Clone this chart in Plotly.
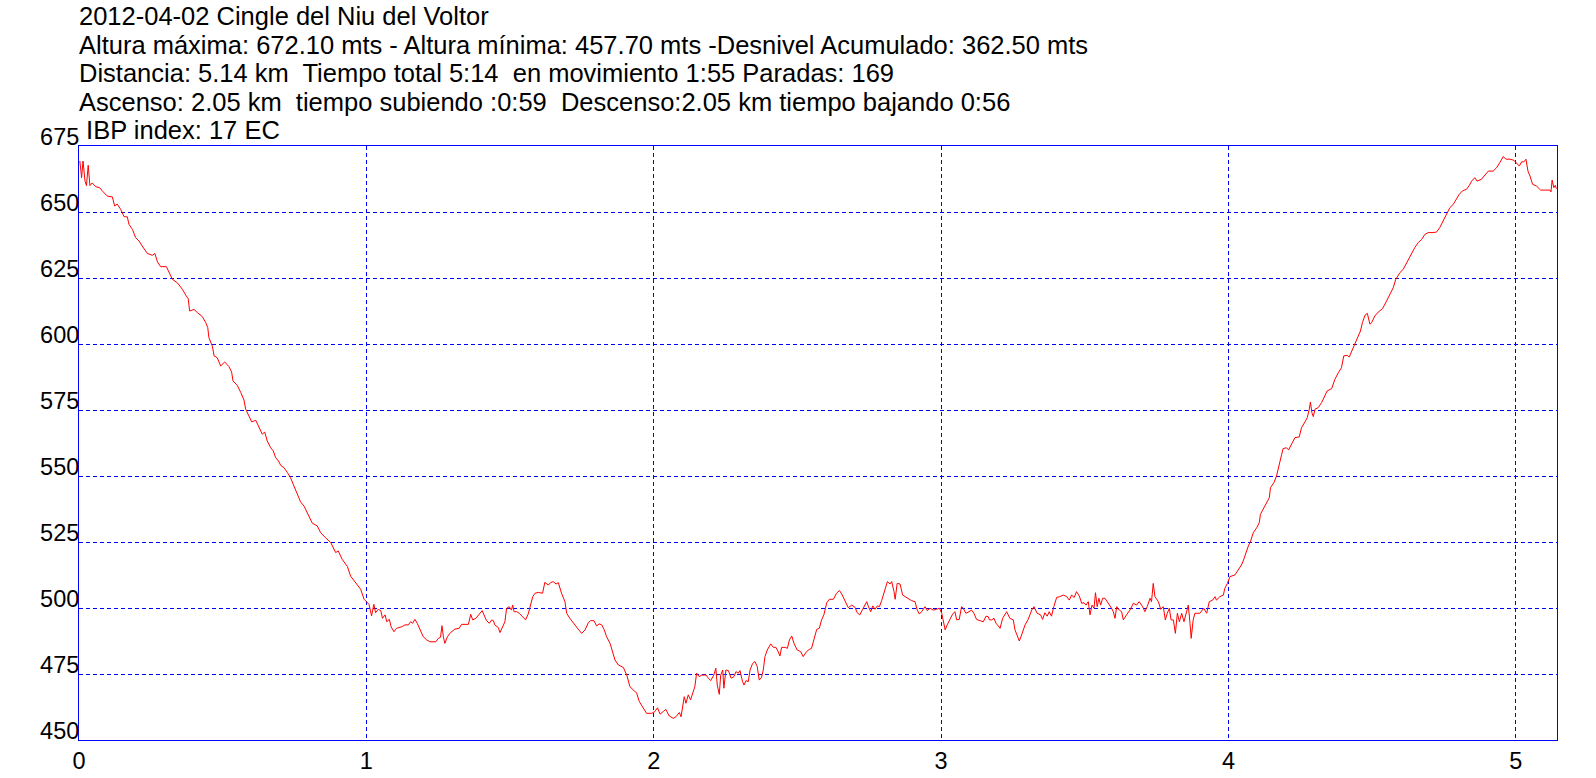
import plotly.graph_objects as go

title_lines = [
    "2012-04-02 Cingle del Niu del Voltor",
    "Altura máxima: 672.10 mts - Altura mínima: 457.70 mts -Desnivel Acumulado: 362.50 mts",
    "Distancia: 5.14 km  Tiempo total 5:14  en movimiento 1:55 Paradas: 169",
    "Ascenso: 2.05 km  tiempo subiendo :0:59  Descenso:2.05 km tiempo bajando 0:56",
    " IBP index: 17 EC",
]

x_ticks = [0, 1, 2, 3, 4, 5]
y_ticks = [450, 475, 500, 525, 550, 575, 600, 625, 650, 675]

dist_km = [
    0.003, 0.009, 0.014, 0.021, 0.026, 0.032, 0.038, 0.046, 0.058, 0.072, 0.081, 0.099, 0.116, 0.124,
    0.133, 0.145, 0.157, 0.168, 0.174, 0.186, 0.197, 0.209, 0.220, 0.238, 0.255, 0.264, 0.273, 0.284,
    0.304, 0.313, 0.325, 0.342, 0.360, 0.373, 0.380, 0.385, 0.400, 0.412, 0.429, 0.441, 0.448, 0.452,
    0.464, 0.470, 0.481, 0.493, 0.507, 0.522, 0.531, 0.536, 0.551, 0.563, 0.574, 0.580, 0.592, 0.601,
    0.615, 0.626, 0.638, 0.646, 0.655, 0.667, 0.676, 0.684, 0.694, 0.702, 0.713, 0.725, 0.736, 0.748,
    0.760, 0.771, 0.783, 0.794, 0.812, 0.829, 0.841, 0.858, 0.876, 0.893, 0.902, 0.916, 0.934, 0.945,
    0.963, 0.980, 0.992, 1.009, 1.018, 1.026, 1.032,
    1.041, 1.050, 1.056, 1.065, 1.071, 1.080, 1.086, 1.096, 1.105, 1.123, 1.134, 1.146, 1.154, 1.161,
    1.169, 1.177, 1.187, 1.198, 1.210, 1.221, 1.242, 1.250, 1.258, 1.263, 1.268, 1.273, 1.282, 1.293,
    1.308, 1.323, 1.331, 1.355, 1.363, 1.370, 1.381, 1.393, 1.403, 1.418, 1.428, 1.436, 1.442, 1.447,
    1.459, 1.465, 1.474, 1.482, 1.488, 1.497, 1.505, 1.509, 1.514, 1.523, 1.532, 1.546, 1.554, 1.563,
    1.572, 1.579, 1.587, 1.598, 1.613, 1.621, 1.633, 1.641, 1.650, 1.660, 1.668, 1.674, 1.679, 1.691,
    1.697, 1.708, 1.720, 1.737, 1.749, 1.761, 1.772, 1.780, 1.792, 1.801, 1.810, 1.819, 1.827, 1.836,
    1.848, 1.856, 1.865, 1.877, 1.894, 1.906, 1.917, 1.931, 1.940, 1.950, 1.961, 1.975, 1.993, 2.004,
    2.013, 2.022, 2.033, 2.042, 2.054, 2.068, 2.077, 2.089,
    2.095, 2.100, 2.106, 2.112, 2.120, 2.128, 2.138, 2.143, 2.149, 2.158, 2.167, 2.182, 2.190, 2.198,
    2.209, 2.216, 2.221, 2.228, 2.233, 2.240, 2.244, 2.251, 2.260, 2.269, 2.279, 2.286, 2.294, 2.300,
    2.309, 2.314, 2.321, 2.329, 2.335, 2.344, 2.352, 2.360, 2.367, 2.375, 2.381, 2.387, 2.395, 2.407,
    2.416, 2.425, 2.433, 2.439, 2.445, 2.457, 2.465, 2.472, 2.480, 2.488, 2.499, 2.511, 2.520, 2.532,
    2.541, 2.549, 2.557, 2.567, 2.576, 2.584, 2.592, 2.602, 2.611, 2.625, 2.636, 2.646, 2.654, 2.665,
    2.677, 2.689, 2.700, 2.708, 2.717, 2.727, 2.741, 2.746, 2.755, 2.762, 2.770, 2.778, 2.785, 2.793,
    2.805, 2.813, 2.822, 2.828, 2.836, 2.840, 2.847, 2.857, 2.866, 2.874, 2.886, 2.897, 2.909, 2.917,
    2.924, 2.932, 2.944, 2.952, 2.961, 2.973, 2.984, 2.994, 3.002, 3.007, 3.014, 3.021, 3.031, 3.040,
    3.048, 3.054, 3.063, 3.071, 3.077, 3.086, 3.097, 3.106, 3.114, 3.123, 3.135, 3.147, 3.156, 3.164,
    3.168,
    3.176, 3.184, 3.191, 3.199, 3.205, 3.214, 3.228, 3.239, 3.251, 3.257, 3.265, 3.272, 3.280, 3.292,
    3.303, 3.315, 3.323, 3.334, 3.346, 3.353, 3.361, 3.369, 3.376, 3.384, 3.392, 3.402, 3.413, 3.425,
    3.437, 3.446, 3.454, 3.463, 3.471, 3.481, 3.489, 3.497, 3.504, 3.512, 3.518, 3.525, 3.532, 3.537,
    3.543, 3.549, 3.555, 3.562, 3.570, 3.582, 3.593, 3.599, 3.605, 3.611, 3.620, 3.628, 3.634, 3.645,
    3.657, 3.669, 3.680, 3.689, 3.701, 3.709, 3.717, 3.727, 3.732, 3.738, 3.744, 3.756, 3.764, 3.773,
    3.780, 3.787, 3.794, 3.800, 3.808, 3.815, 3.822, 3.829, 3.837, 3.845, 3.852, 3.860, 3.866, 3.870,
    3.877, 3.883, 3.900, 3.914, 3.924, 3.933, 3.945, 3.953, 3.958, 3.970, 3.982, 3.987, 3.996, 4.005,
    4.022, 4.034, 4.045, 4.051,
    4.060, 4.069, 4.077, 4.086, 4.098, 4.107, 4.111, 4.121, 4.132, 4.142, 4.146, 4.158, 4.167, 4.173,
    4.179, 4.185, 4.190, 4.202, 4.209, 4.219, 4.231, 4.246, 4.254, 4.266, 4.274, 4.281, 4.285, 4.290,
    4.295, 4.301, 4.312, 4.324, 4.335, 4.343, 4.359, 4.370, 4.382, 4.393, 4.401, 4.413, 4.420, 4.428,
    4.440, 4.451, 4.459, 4.466, 4.475, 4.483, 4.492, 4.498, 4.509, 4.521, 4.536, 4.550, 4.562, 4.573,
    4.582, 4.596, 4.608, 4.617, 4.629, 4.640, 4.648, 4.660, 4.672, 4.683, 4.695, 4.712, 4.724, 4.735,
    4.747, 4.759, 4.770, 4.782, 4.793, 4.803, 4.814, 4.828, 4.838, 4.846, 4.857, 4.865, 4.880, 4.892,
    4.904, 4.921, 4.933, 4.944, 4.956, 4.965, 4.979, 4.993, 5.002, 5.012, 5.020, 5.028, 5.035, 5.042,
    5.049, 5.058, 5.072, 5.086, 5.101, 5.118, 5.122, 5.126, 5.132, 5.137, 5.141,
]

alt_m = [
    669.3, 663.0, 669.3, 661.7, 660.0, 667.7, 660.0, 661.0, 659.6, 659.2, 658.0, 656.0, 655.7, 652.3,
    653.0, 651.0, 648.2, 648.2, 645.3, 643.4, 640.3, 639.0, 637.1, 634.3, 633.6, 634.3, 631.1, 629.3,
    629.3, 627.0, 624.5, 623.2, 620.7, 618.2, 617.2, 612.5, 613.1, 611.9, 610.4, 608.1, 606.2, 602.4,
    599.2, 595.5, 594.8, 591.7, 593.2, 591.4, 589.4, 586.0, 584.3, 581.6, 578.8, 575.3, 572.7, 570.5,
    571.1, 568.3, 565.8, 566.7, 563.3, 560.7, 559.5, 557.0, 555.7, 554.0, 553.2, 551.3, 549.4, 546.2,
    543.1, 540.2, 538.6, 536.1, 532.1, 531.1, 528.5, 526.6, 524.8, 521.0, 521.6, 518.4, 515.7, 512.1,
    509.6, 507.1, 503.3, 501.4, 497.0, 501.4, 498.2,
    499.5, 499.0, 496.1, 497.4, 494.8, 495.7, 492.9, 491.0, 492.3, 492.9, 493.6, 493.6, 494.8, 494.2,
    495.7, 494.2, 491.7, 489.1, 487.9, 487.2, 487.2, 488.5, 488.9, 493.3, 489.1, 486.6, 489.1, 490.7,
    492.0, 492.3, 493.8, 493.8, 497.6, 495.5, 496.1, 497.7, 499.0, 495.2, 494.2, 495.5, 495.2, 493.6,
    492.6, 490.7, 492.9, 494.8, 499.9, 500.5, 499.2, 501.1, 498.6, 498.6, 498.0, 496.5, 495.5, 497.7,
    501.1, 504.3, 505.6, 505.9, 505.6, 509.7, 508.7, 509.6, 510.0, 509.1, 509.6, 507.4, 505.6, 502.4,
    498.0, 496.1, 494.2, 492.0, 490.4, 491.7, 494.4, 495.2, 495.2, 493.2, 494.0, 493.6, 491.9, 489.1,
    486.6, 483.5, 480.3, 478.4, 477.5, 474.6, 470.2, 468.7, 467.9, 464.5, 462.6, 460.1, 460.1, 460.8,
    462.2, 459.8, 460.8, 461.6, 459.1, 458.2, 458.8, 460.4,
    458.8, 463.3, 466.4, 463.9, 467.1, 465.2, 468.3, 470.2, 475.3, 474.0, 474.6, 474.6, 473.4, 472.5,
    474.6, 477.2, 470.8, 467.3, 474.6, 476.5, 469.6, 476.5, 476.3, 473.4, 474.0, 475.9, 475.3, 476.3,
    472.1, 470.8, 472.5, 472.1, 476.5, 479.0, 479.7, 477.8, 472.7, 473.7, 476.5, 481.6, 484.1, 486.4,
    485.1, 485.1, 483.5, 481.8, 485.1, 485.1, 484.7, 487.9, 489.4, 486.6, 484.1, 483.5, 481.6, 483.5,
    484.3, 484.7, 487.9, 491.9, 492.3, 495.5, 497.4, 502.0, 503.3, 503.3, 505.6, 506.6, 505.3, 503.0,
    500.1, 501.1, 500.3, 498.2, 497.4, 499.5, 502.4, 500.8, 498.6, 500.8, 499.5, 500.8, 500.5, 502.8,
    506.8, 510.0, 509.1, 510.0, 506.2, 503.3, 509.3, 509.1, 504.9, 504.3, 503.7, 502.8, 502.4, 499.2,
    497.7, 498.6, 500.5, 499.0, 499.9, 499.2, 499.5, 499.9, 498.0, 495.7, 491.7, 493.6, 495.5, 497.7,
    498.6, 495.5, 495.7, 500.5, 499.9, 498.0, 498.6, 499.2, 498.0, 495.7, 495.2, 494.8, 496.9, 496.7,
    495.5,
    495.5, 496.1, 494.2, 493.2, 492.3, 496.1, 498.6, 496.1, 495.5, 491.7, 489.8, 487.5, 489.8, 493.6,
    495.7, 499.2, 500.5, 498.0, 497.4, 495.7, 498.2, 496.9, 498.6, 496.9, 500.5, 504.0, 504.3, 504.9,
    504.3, 503.0, 504.9, 504.0, 506.2, 504.5, 501.8, 502.0, 501.1, 502.4, 497.4, 501.1, 499.9, 505.8,
    500.5, 503.7, 501.1, 503.7, 503.7, 501.8, 499.9, 498.6, 496.1, 500.5, 499.2, 498.6, 495.5, 497.4,
    499.2, 501.8, 501.1, 502.4, 500.5, 498.6, 500.5, 503.7, 502.4, 509.3, 504.3, 502.4, 499.5, 500.5,
    495.5, 498.0, 499.9, 495.5, 495.5, 490.4, 498.0, 494.8, 498.0, 494.8, 497.4, 501.1, 494.2, 488.5,
    495.5, 498.0, 498.0, 499.9, 498.0, 502.4, 503.0, 504.3, 503.0, 504.3, 504.9, 507.4, 509.3, 511.9,
    512.5, 514.4, 516.3, 517.8,
    521.0, 523.5, 525.4, 528.5, 530.4, 532.3, 535.5, 537.4, 539.9, 541.8, 545.6, 547.5, 550.0, 553.2,
    555.7, 558.2, 560.4, 560.7, 559.9, 562.0, 564.5, 564.8, 568.3, 570.5, 572.1, 575.3, 578.0, 574.0,
    572.5, 575.3, 575.9, 577.8, 580.3, 582.2, 583.1, 586.6, 589.1, 591.0, 595.5, 595.7, 595.1, 597.0,
    599.9, 602.8, 604.9, 608.1, 610.9, 611.6, 607.5, 608.1, 610.6, 612.1, 613.4, 616.3, 618.8, 621.3,
    624.5, 627.0, 628.3, 630.2, 632.7, 634.6, 636.5, 638.4, 639.6, 641.5, 642.2, 642.2, 642.4, 644.1,
    646.6, 649.1, 651.6, 652.9, 655.1, 656.7, 658.0, 658.6, 660.1, 661.7, 663.0, 661.7, 662.4, 663.9,
    665.5, 665.5, 666.8, 668.7, 671.0, 670.0, 670.0, 669.6, 668.7, 667.4, 669.0, 669.0, 670.0, 665.5,
    663.6, 660.5, 659.8, 658.3, 658.3, 658.3, 657.6, 662.1, 659.2, 660.1, 658.8,
]

BLUE = "#0000FF"
FONT = "Liberation Sans, Arial, sans-serif"

fig = go.Figure()
fig.add_trace(go.Scatter(x=dist_km, y=alt_m, mode="lines",
                         line=dict(color="#FF0000", width=1), hoverinfo="skip"))

M_L, M_R, M_T, M_B = 79, 39, 146, 38
W, H = 1596, 778
plot_h = H - M_T - M_B

line_py = [16, 45, 73, 102, 130]
for txt, py in zip(title_lines, line_py):
    fig.add_annotation(text=txt, xref="paper", yref="paper",
                       x=0, y=(H - M_B - py) / plot_h, xanchor="left", yanchor="middle",
                       xshift=-2, showarrow=False,
                       font=dict(family=FONT, size=25.5, color="#000000"))

fig.update_layout(
    width=W, height=H,
    margin=dict(l=M_L, r=M_R, t=M_T, b=M_B, autoexpand=False),
    paper_bgcolor="white", plot_bgcolor="white",
    showlegend=False,
    font=dict(family=FONT, size=23.5, color="#000000"),
)
fig.update_xaxes(range=[0, 5.143], tickvals=x_ticks, ticktext=[str(v) for v in x_ticks],
                 showgrid=True, gridcolor=BLUE, gridwidth=1, griddash="4px,3px",
                 showline=True, linecolor=BLUE, linewidth=1, mirror=True,
                 zeroline=False, ticks="", ticklabelstandoff=0)
fig.update_yaxes(range=[450, 675], tickvals=y_ticks, ticktext=[str(v) for v in y_ticks],
                 showgrid=True, gridcolor=BLUE, gridwidth=1, griddash="4px,3px",
                 showline=True, linecolor=BLUE, linewidth=1, mirror=True,
                 zeroline=False, ticks="", ticklabelstandoff=-6, ticklabelshift=-9)

fig.write_html("out.html", config={"displayModeBar": False},
               post_script="document.body.style.margin='0';")
